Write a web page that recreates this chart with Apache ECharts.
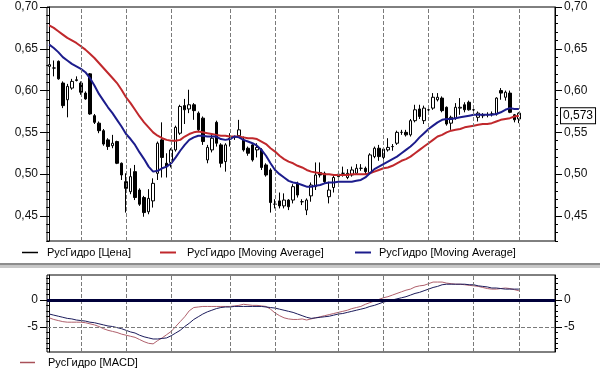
<!DOCTYPE html>
<html><head><meta charset="utf-8">
<script src="https://cdn.jsdelivr.net/npm/echarts@6/dist/echarts.min.js"></script>
<style>html,body{margin:0;padding:0;background:#fff}#c{width:600px;height:371px}</style>
</head><body><div id="c"></div>
<script>
// ---- price candles (РусГидро) ----
const opens  = [0.629,0.627,0.635,0.609,0.589,0.603,0.612,0.609,0.597,0.620,0.570,0.561,0.552,0.541,0.534,0.539,0.513,0.491,0.479,0.503,0.481,0.472,0.455,0.468,0.501,0.541,0.513,0.514,0.529,0.549,0.582,0.578,0.583,0.573,0.567,0.517,0.529,0.562,0.535,0.515,0.542,0.544,0.546,0.541,0.531,0.535,0.529,0.529,0.511,0.505,0.464,0.468,0.462,0.469,0.469,0.489,0.467,0.457,0.474,0.485,0.502,0.501,0.473,0.484,0.497,0.501,0.496,0.499,0.501,0.507,0.507,0.502,0.521,0.531,0.520,0.529,0.533,0.537,0.550,0.550,0.547,0.564,0.578,0.564,0.577,0.579,0.589,0.591,0.580,0.561,0.567,0.579,0.583,0.586,0.577,0.568,0.570,0.571,0.572,0.572,0.600,0.592,0.597,0.571,0.566];
const closes = [0.631,0.627,0.614,0.582,0.605,0.611,0.613,0.598,0.590,0.572,0.562,0.552,0.536,0.533,0.537,0.513,0.499,0.483,0.497,0.472,0.464,0.454,0.471,0.489,0.537,0.520,0.509,0.529,0.556,0.581,0.577,0.583,0.576,0.553,0.539,0.532,0.543,0.537,0.513,0.535,0.543,0.544,0.553,0.529,0.525,0.517,0.532,0.508,0.499,0.466,0.464,0.462,0.469,0.461,0.485,0.475,0.467,0.469,0.487,0.499,0.499,0.491,0.481,0.496,0.500,0.501,0.501,0.505,0.507,0.507,0.503,0.523,0.531,0.521,0.530,0.532,0.533,0.550,0.550,0.547,0.564,0.577,0.569,0.579,0.577,0.592,0.592,0.576,0.560,0.568,0.580,0.580,0.577,0.577,0.577,0.573,0.570,0.571,0.572,0.591,0.597,0.598,0.574,0.565,0.573];
const lows   = [0.617,0.617,0.613,0.579,0.568,0.601,0.611,0.595,0.589,0.571,0.560,0.549,0.534,0.529,0.531,0.512,0.493,0.454,0.476,0.469,0.462,0.449,0.452,0.460,0.493,0.496,0.496,0.508,0.527,0.547,0.560,0.573,0.565,0.551,0.535,0.513,0.526,0.533,0.508,0.503,0.533,0.541,0.544,0.527,0.522,0.515,0.520,0.505,0.497,0.454,0.459,0.459,0.459,0.457,0.465,0.472,0.463,0.451,0.467,0.481,0.496,0.489,0.465,0.478,0.494,0.497,0.494,0.497,0.499,0.504,0.500,0.500,0.519,0.516,0.517,0.527,0.528,0.535,0.547,0.545,0.545,0.562,0.566,0.560,0.574,0.577,0.587,0.574,0.558,0.553,0.565,0.571,0.574,0.576,0.574,0.563,0.567,0.568,0.569,0.570,0.589,0.588,0.573,0.562,0.561];
const highs  = [0.633,0.636,0.636,0.611,0.608,0.614,0.617,0.611,0.599,0.621,0.572,0.563,0.554,0.543,0.547,0.540,0.514,0.501,0.507,0.511,0.483,0.474,0.482,0.495,0.539,0.562,0.525,0.531,0.558,0.583,0.590,0.601,0.585,0.575,0.569,0.535,0.549,0.564,0.537,0.537,0.549,0.546,0.565,0.545,0.533,0.537,0.537,0.531,0.513,0.507,0.470,0.478,0.477,0.470,0.488,0.491,0.470,0.471,0.490,0.514,0.514,0.503,0.491,0.498,0.504,0.509,0.506,0.509,0.512,0.512,0.509,0.525,0.533,0.535,0.532,0.543,0.536,0.552,0.553,0.553,0.566,0.583,0.583,0.582,0.580,0.597,0.597,0.593,0.581,0.570,0.585,0.591,0.586,0.588,0.580,0.575,0.573,0.574,0.575,0.592,0.603,0.600,0.600,0.572,0.574];
// ---- moving averages ----
const maRed  = [0.678,0.675,0.671,0.667,0.663,0.660,0.657,0.653,0.649,0.644,0.639,0.633,0.627,0.621,0.615,0.609,0.601,0.592,0.585,0.577,0.569,0.562,0.556,0.550,0.546,0.543,0.541,0.540,0.540,0.541,0.545,0.548,0.550,0.551,0.550,0.549,0.548,0.547,0.546,0.546,0.545,0.545,0.545,0.544,0.543,0.543,0.542,0.539,0.536,0.531,0.527,0.522,0.518,0.515,0.513,0.510,0.508,0.505,0.503,0.502,0.501,0.500,0.500,0.499,0.499,0.499,0.499,0.500,0.500,0.500,0.500,0.501,0.503,0.505,0.507,0.508,0.510,0.513,0.516,0.518,0.521,0.525,0.529,0.533,0.537,0.541,0.545,0.547,0.550,0.552,0.553,0.554,0.556,0.557,0.558,0.559,0.560,0.560,0.561,0.563,0.565,0.566,0.567,0.569,0.570];
const maBlue = [0.655,0.651,0.646,0.640,0.636,0.632,0.629,0.626,0.622,0.615,0.606,0.596,0.588,0.580,0.573,0.565,0.557,0.548,0.542,0.535,0.526,0.518,0.509,0.503,0.504,0.507,0.509,0.513,0.520,0.528,0.535,0.541,0.544,0.546,0.546,0.545,0.545,0.545,0.542,0.541,0.542,0.545,0.544,0.541,0.539,0.537,0.534,0.529,0.522,0.513,0.505,0.500,0.496,0.492,0.490,0.489,0.487,0.485,0.485,0.486,0.487,0.489,0.490,0.490,0.491,0.491,0.491,0.491,0.492,0.493,0.496,0.501,0.506,0.509,0.512,0.515,0.518,0.521,0.525,0.529,0.533,0.538,0.544,0.549,0.554,0.558,0.562,0.565,0.566,0.566,0.567,0.568,0.569,0.570,0.571,0.571,0.571,0.571,0.571,0.572,0.574,0.577,0.579,0.578,0.578];
// ---- MACD panel ----
const macdLine   = [-3.3,-3.6,-3.8,-4.0,-4.1,-4.1,-4.1,-4.1,-4.2,-4.4,-4.6,-4.9,-5.3,-5.6,-5.8,-6.0,-6.3,-6.5,-6.7,-6.9,-7.3,-7.7,-8.0,-8.1,-7.5,-7.0,-6.4,-5.8,-4.9,-4.0,-3.1,-2.0,-1.4,-1.3,-1.2,-1.2,-1.2,-1.2,-1.2,-1.2,-1.2,-1.1,-1.0,-0.8,-0.9,-1.0,-1.0,-1.1,-1.2,-1.7,-2.4,-2.9,-3.3,-3.5,-3.6,-3.6,-3.5,-3.7,-3.5,-3.3,-3.1,-2.9,-2.7,-2.5,-2.3,-2.1,-1.9,-1.6,-1.4,-1.2,-0.8,-0.5,-0.2,0.1,0.4,0.6,0.9,1.2,1.5,1.8,2.0,2.4,2.6,2.7,3.0,3.3,3.3,3.3,3.1,3.0,2.9,2.9,2.8,2.7,2.6,2.5,2.3,2.1,2.0,2.0,2.1,2.2,2.1,1.9,1.7];
const signalLine = [-2.6,-2.8,-3.0,-3.2,-3.4,-3.5,-3.7,-3.8,-3.9,-4.1,-4.2,-4.4,-4.6,-4.8,-4.9,-5.1,-5.3,-5.6,-5.9,-6.1,-6.5,-6.8,-7.0,-7.2,-7.2,-7.1,-7.0,-6.6,-6.1,-5.6,-4.9,-4.3,-3.6,-3.1,-2.6,-2.2,-1.9,-1.6,-1.4,-1.3,-1.3,-1.2,-1.2,-1.2,-1.2,-1.2,-1.2,-1.2,-1.3,-1.4,-1.5,-1.7,-1.9,-2.1,-2.3,-2.6,-2.9,-3.2,-3.4,-3.3,-3.2,-3.1,-3.0,-2.8,-2.6,-2.5,-2.3,-2.1,-1.9,-1.7,-1.5,-1.2,-1.0,-0.7,-0.4,-0.2,0.0,0.2,0.4,0.6,0.9,1.2,1.4,1.7,2.0,2.3,2.5,2.8,2.9,2.9,2.9,2.9,2.9,2.8,2.8,2.6,2.5,2.4,2.2,2.2,2.1,2.0,2.0,2.0,2.0];
// ---- axes / ticks ----
const gridLineIdx = [7,17,27,40,50,64,74,84,94,104];
const priceTicks = [0.45,0.50,0.55,0.60,0.65,0.70];
const priceMinorTicks = [0.42,0.43,0.44,0.45,0.46,0.47,0.48,0.49,0.50,0.51,0.52,0.53,0.54,0.55,0.56,0.57,0.58,0.59,0.60,0.61,0.62,0.63,0.64,0.65,0.66,0.67,0.68,0.69,0.70];
const macdTicks = [-5, 0];
const macdMinorTicks = [-9,-8,-7,-6,-5,-4,-3,-2,-1,0,1,2,3,4];

const FONT = '"Liberation Sans", Arial, sans-serif';
const fmtP = v => v.toFixed(2).replace('.', ',');
const fmtM = v => String(Math.round(v));
const lastPrice = closes[closes.length - 1];

const candleData = opens.map((o, i) => [i, o, closes[i], lows[i], highs[i]]);
const pairs = arr => arr.map((v, i) => [i, v]);

function sideAxes(grid, min, max, minorVals, majorVals, fmt) {
  const out = [];
  ['left', 'right'].forEach(pos => {
    out.push({gridIndex: grid, type: 'value', position: pos, min, max,
      axisLine: {show: true, lineStyle: {color: '#000', width: 1}}, splitLine: {show: false},
      axisTick: {show: true, customValues: minorVals, length: 3, lineStyle: {color: '#000'}},
      axisLabel: {show: false}});
    out.push({gridIndex: grid, type: 'value', position: pos, min, max,
      axisLine: {show: false}, splitLine: {show: false},
      axisTick: {show: true, customValues: majorVals, length: 7, lineStyle: {color: '#000'}},
      axisLabel: {show: true, customValues: majorVals, formatter: fmt, margin: 9,
        fontSize: 12, fontFamily: FONT, color: '#111'}});
  });
  return out;
}

const vLines = gridLineIdx.map(i => ({xAxis: i}));
const legendBase = {orient: 'horizontal', padding: 0, icon: 'rect', itemWidth: 16, itemHeight: 2,
  selectedMode: false, textStyle: {fontSize: 11, fontFamily: FONT, color: '#000'}};

const option = {
  animation: false,
  backgroundColor: '#fff',
  grid: [
    {left: 47, right: 45, top: 7, height: 234, show: true, borderColor: '#000', borderWidth: 1},
    {left: 47, right: 45, top: 275, height: 77, show: true, borderColor: '#000', borderWidth: 1}
  ],
  xAxis: [
    {gridIndex: 0, type: 'value', min: -0.5, max: 112, show: false},
    {gridIndex: 1, type: 'value', min: -0.5, max: 112, show: false}
  ],
  yAxis: [].concat(
    sideAxes(0, 0.42, 0.70, priceMinorTicks, priceTicks, fmtP),
    sideAxes(1, -9.6, 4.6, macdMinorTicks, macdTicks, fmtM)
  ),
  legend: [
    Object.assign({}, legendBase, {left: 22, top: 247, data: ['РусГидро [Цена]'], itemHeight: 1.5,
      itemStyle: {color: '#000', borderWidth: 0},
      textStyle: Object.assign({}, legendBase.textStyle, {padding: [0, 0, 0, 4]})}),
    Object.assign({}, legendBase, {left: 160, top: 247, data: ['РусГидро [Moving Average]'],
      textStyle: Object.assign({}, legendBase.textStyle, {padding: [0, 0, 0, 6]})}),
    Object.assign({}, legendBase, {left: 355, top: 247, data: ['РусГидро [Moving Average] '],
      textStyle: Object.assign({}, legendBase.textStyle, {padding: [0, 0, 0, 3]})}),
    Object.assign({}, legendBase, {left: 20, top: 357, itemWidth: 15, itemHeight: 1.5, data: ['РусГидро [MACD]'],
      textStyle: Object.assign({}, legendBase.textStyle, {padding: [0, 0, 0, 8]})})
  ],
  graphic: [
    {type: 'rect', left: 0, top: 263, shape: {width: 600, height: 2.5}, style: {fill: '#8c8c8c'}, silent: true},
    {type: 'rect', left: 0, top: 266, shape: {width: 600, height: 2}, style: {fill: '#c8c8c8'}, silent: true}
  ],
  series: [
    {
      type: 'candlestick', name: 'РусГидро [Цена]', xAxisIndex: 0, yAxisIndex: 0,
      data: candleData, encode: {x: 0, y: [1, 2, 3, 4]}, barWidth: 3,
      itemStyle: {color: '#fff', color0: '#000', borderColor: '#000', borderColor0: '#000', borderWidth: 1},
      markLine: {
        silent: true, symbol: ['none', 'none'], animation: false,
        lineStyle: {type: 'dashed', color: '#7a7a7a', width: 1},
        label: {show: false},
        data: vLines
      }
    },
    {
      type: 'line', name: 'РусГидро [Moving Average]', xAxisIndex: 0, yAxisIndex: 0,
      data: pairs(maRed), showSymbol: false, symbol: 'none',
      lineStyle: {color: '#c0282c', width: 2}, itemStyle: {color: '#c0282c'}
    },
    {
      type: 'line', name: 'РусГидро [Moving Average] ', xAxisIndex: 0, yAxisIndex: 0,
      data: pairs(maBlue), showSymbol: false, symbol: 'none',
      lineStyle: {color: '#1c1c8c', width: 2}, itemStyle: {color: '#1c1c8c'},
      markLine: {
        silent: true, symbol: ['none', 'none'], animation: false,
        lineStyle: {color: 'rgba(0,0,0,0)', width: 1, type: 'solid'},
        label: {show: true, position: 'end', distance: 6,
          formatter: () => lastPrice.toFixed(3).replace('.', ','),
          color: '#000', fontSize: 12, fontFamily: FONT, backgroundColor: '#fff',
          borderColor: '#000', borderWidth: 1, padding: [2, 2, 1, 2]},
        data: [{yAxis: lastPrice}]
      }
    },
    {
      type: 'line', name: 'РусГидро [MACD]', xAxisIndex: 1, yAxisIndex: 4,
      data: pairs(macdLine), showSymbol: false, symbol: 'none', z: 3,
      lineStyle: {color: '#b0606c', width: 1}, itemStyle: {color: '#a85058'},
      markLine: {
        silent: true, symbol: ['none', 'none'], animation: false, label: {show: false},
        data: vLines.map(d => Object.assign({}, d, {lineStyle: {type: 'dashed', color: '#7a7a7a', width: 1}})).concat([
          {yAxis: -5, lineStyle: {type: 'dashed', color: '#7a7a7a', width: 1}},
          {yAxis: 0, lineStyle: {type: 'solid', color: '#00003a', width: 3}}
        ])
      }
    },
    {
      type: 'line', name: 'signal', xAxisIndex: 1, yAxisIndex: 4,
      data: pairs(signalLine), showSymbol: false, symbol: 'none', z: 3,
      lineStyle: {color: '#1c1c5c', width: 1}, itemStyle: {color: '#1c1c5c'}
    }
  ]
};

const chart = echarts.init(document.getElementById('c'), null, {renderer: 'canvas'});
chart.setOption(option);
</script>
</body></html>
